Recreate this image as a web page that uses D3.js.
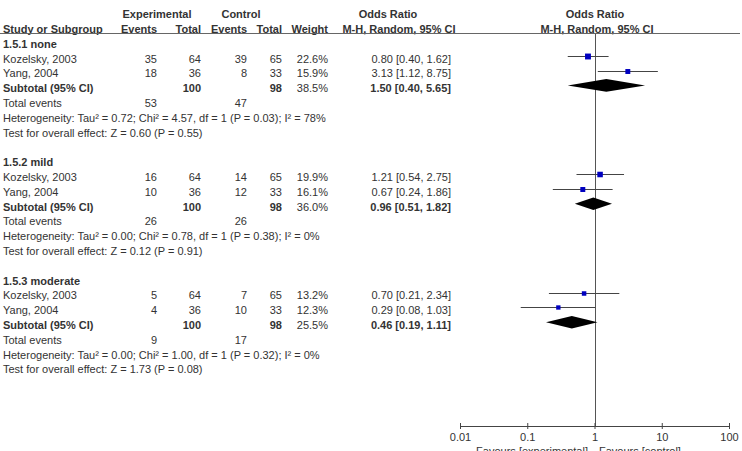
<!DOCTYPE html>
<html>
<head>
<meta charset="utf-8">
<script src="https://cdn.jsdelivr.net/npm/d3@7"></script>
<style>
  body { margin: 0; background: #fff; }
  svg { font-family: Arial, "Liberation Sans", sans-serif; font-size: 11px; }
  .b { font-weight: bold; }
</style>
</head>
<body>
<div id="chart"></div>
<script>
const groups = ['1.5.1 none', '1.5.2 mild', '1.5.3 moderate']

const studyGroup = [0, 0, 1, 1, 2, 2]
const studyName  = ['Kozelsky, 2003', 'Yang, 2004', 'Kozelsky, 2003', 'Yang, 2004', 'Kozelsky, 2003', 'Yang, 2004']
const expEvents  = [35, 18, 16, 10, 5, 4]
const expTotal   = [64, 36, 64, 36, 64, 36]
const ctlEvents  = [39, 8, 14, 12, 7, 10]
const ctlTotal   = [65, 33, 65, 33, 65, 33]
const weight     = [22.6, 15.9, 19.9, 16.1, 13.2, 12.3]
const orEst      = [0.80, 3.13, 1.21, 0.67, 0.70, 0.29]
const orLo       = [0.40, 1.12, 0.54, 0.24, 0.21, 0.08]
const orHi       = [1.62, 8.75, 2.75, 1.86, 2.34, 1.03]

const subExpTotal = [100, 100, 100]
const subCtlTotal = [98, 98, 98]
const subWeight   = [38.5, 36.0, 25.5]
const subEst      = [1.50, 0.96, 0.46]
const subLo       = [0.40, 0.51, 0.19]
const subHi       = [5.65, 1.82, 1.11]
const totExp      = [53, 26, 9]
const totCtl      = [47, 26, 17]
const tau2        = ['0.72', '0.00', '0.00']
const chi2        = ['4.57', '0.78', '1.00']
const dfs         = [1, 1, 1]
const hetP        = ['0.03', '0.38', '0.32']
const i2          = [78, 0, 0]
const zVal        = ['0.60', '0.12', '1.73']
const zP          = ['0.55', '0.91', '0.08']

const axisTicks = [0.01, 0.1, 1, 10, 100]
const axisLabels = ['0.01', '0.1', '1', '10', '100']

const W = 742, H = 451
const TEXT = '#333'
const COL = { name: 3, expE: 157, expT: 201, ctlE: 247, ctlT: 282, wt: 328, or: 451 }

const svg = d3.select('#chart').append('svg').attr('width', W).attr('height', H)

// row slot -> text centre
const y = d3.scaleLinear().domain([0, 1]).range([44, 58.8])
const x = d3.scaleLog().domain([0.01, 100]).range([460, 729])
const size = d3.scaleSqrt().domain([0, 25]).range([0, 6.2])
const fmt = d3.format('.2f')
const MARK = -3

function txt(xp, yp, s, anchor = 'start', bold = false) {
  return svg.append('text')
    .attr('x', xp).attr('y', yp)
    .attr('dy', '0.35em')
    .attr('text-anchor', anchor)
    .attr('fill', TEXT)
    .classed('b', bold)
    .text(s)
}

// ── header ───────────────────────────────────────────────────
txt(157, 14, 'Experimental', 'middle', true)
txt(241, 14, 'Control', 'middle', true)
txt(388, 14, 'Odds Ratio', 'middle', true)
txt(595, 14, 'Odds Ratio', 'middle', true)
txt(COL.name, 29, 'Study or Subgroup', 'start', true)
txt(COL.expE, 29, 'Events', 'end', true)
txt(COL.expT, 29, 'Total', 'end', true)
txt(COL.ctlE, 29, 'Events', 'end', true)
txt(COL.ctlT, 29, 'Total', 'end', true)
txt(COL.wt, 29, 'Weight', 'end', true)
txt(399, 29, 'M-H, Random, 95% CI', 'middle', true)
txt(597, 29, 'M-H, Random, 95% CI', 'middle', true)

svg.append('line')
  .attr('x1', 0).attr('x2', 740).attr('y1', 33.5).attr('y2', 33.5)
  .attr('stroke', '#666').attr('stroke-width', 1)

// line of no effect
svg.append('line')
  .attr('x1', Math.round(x(1)) + 0.5).attr('x2', Math.round(x(1)) + 0.5)
  .attr('y1', 34).attr('y2', 426)
  .attr('stroke', '#555').attr('stroke-width', 1)

// ── groups ───────────────────────────────────────────────────
groups.forEach((g, gi) => {
  const base = gi * 8
  txt(COL.name, y(base), g, 'start', true)

  studyName.forEach((name, i) => {
    if (studyGroup[i] !== gi) return
    const k = studyName.filter((_, j) => j < i && studyGroup[j] === gi).length
    const yy = y(base + 1 + k)
    txt(COL.name, yy, name)
    txt(COL.expE, yy, expEvents[i], 'end')
    txt(COL.expT, yy, expTotal[i], 'end')
    txt(COL.ctlE, yy, ctlEvents[i], 'end')
    txt(COL.ctlT, yy, ctlTotal[i], 'end')
    txt(COL.wt, yy, weight[i].toFixed(1) + '%', 'end')
    txt(COL.or, yy, `${fmt(orEst[i])} [${fmt(orLo[i])}, ${fmt(orHi[i])}]`, 'end')

    const my = Math.round(yy + MARK) + 0.5
    svg.append('line')
      .attr('x1', x(orLo[i])).attr('x2', x(orHi[i]))
      .attr('y1', my).attr('y2', my)
      .attr('stroke', '#444').attr('stroke-width', 1)
    const s = size(weight[i])
    svg.append('rect')
      .attr('x', x(orEst[i]) - s / 2).attr('y', my - s / 2)
      .attr('width', s).attr('height', s)
      .attr('fill', '#0000c0')
  })

  const ys = y(base + 3)
  txt(COL.name, ys, 'Subtotal (95% CI)', 'start', true)
  txt(COL.expT, ys, subExpTotal[gi], 'end', true)
  txt(COL.ctlT, ys, subCtlTotal[gi], 'end', true)
  txt(COL.wt, ys, subWeight[gi].toFixed(1) + '%', 'end')
  txt(COL.or, ys, `${fmt(subEst[gi])} [${fmt(subLo[gi])}, ${fmt(subHi[gi])}]`, 'end', true)

  const dy = ys + MARK
  const dh = 6.3
  svg.append('path')
    .attr('d', `M${x(subLo[gi])},${dy} L${x(subEst[gi])},${dy - dh} L${x(subHi[gi])},${dy} L${x(subEst[gi])},${dy + dh} Z`)
    .attr('fill', '#000')

  const yt = y(base + 4)
  txt(COL.name, yt, 'Total events')
  txt(COL.expE, yt, totExp[gi], 'end')
  txt(COL.ctlE, yt, totCtl[gi], 'end')

  txt(COL.name, y(base + 5),
    `Heterogeneity: Tau\u00B2 = ${tau2[gi]}; Chi\u00B2 = ${chi2[gi]}, df = ${dfs[gi]} (P = ${hetP[gi]}); I\u00B2 = ${i2[gi]}%`)
  txt(COL.name, y(base + 6), `Test for overall effect: Z = ${zVal[gi]} (P = ${zP[gi]})`)
})

// ── axis ─────────────────────────────────────────────────────
const gAxis = svg.append('g').attr('transform', 'translate(0,426)')
gAxis.call(
  d3.axisBottom(x).tickValues(axisTicks).tickFormat((d, i) => axisLabels[i])
    .tickSizeOuter(0).tickSizeInner(3).tickPadding(4)
)
gAxis.select('.domain').attr('stroke', '#444')
gAxis.selectAll('.tick line').attr('y1', -3).attr('stroke', '#444')
gAxis.selectAll('.tick text')
  .attr('fill', TEXT).style('font-size', '11px')
  .style('font-family', 'Arial, "Liberation Sans", sans-serif')

txt(588, 451, 'Favours [experimental]', 'end')
txt(599, 451, 'Favours [control]', 'start')
</script>
</body>
</html>
